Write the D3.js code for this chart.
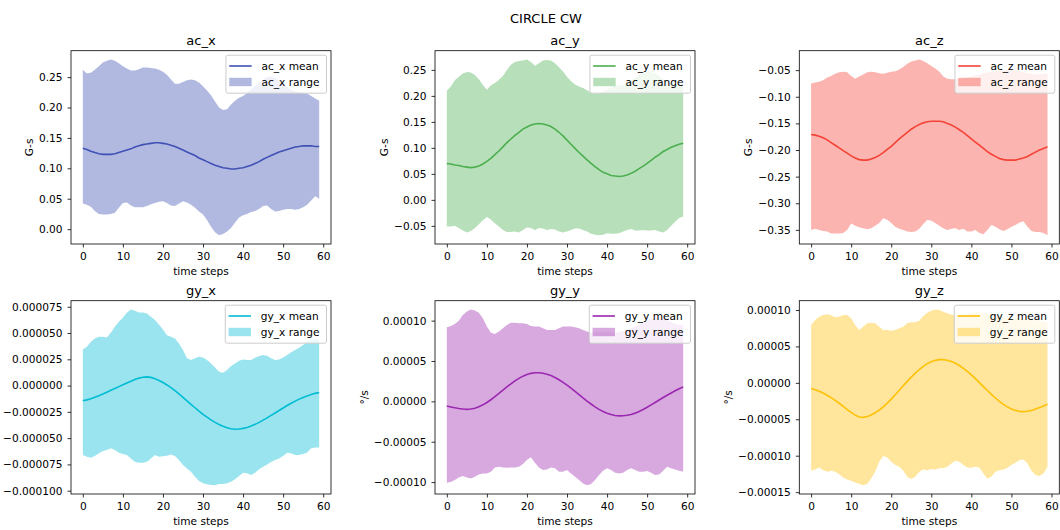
<!DOCTYPE html>
<html>
<head>
<meta charset="utf-8">
<script src="https://cdn.jsdelivr.net/npm/d3@7"></script>
<style>
  body { margin: 0; background: #fff; }
  svg { font-family: "DejaVu Sans", sans-serif; }
</style>
</head>
<body>
<svg id="chart" width="1060" height="530"></svg>
<script>
//*********************************//
//** DATA **//
//*********************************//

var figTitle = "CIRCLE CW";
var timeSteps = d3.range(60);
var xTicks = [0, 10, 20, 30, 40, 50, 60];

/* accelerometer, in G-s */
var acXMean = [0.133,0.131,0.128,0.126,0.124,0.123,0.123,0.123,0.124,0.126,0.128,0.130,0.132,0.135,0.137,0.139,0.140,0.141,0.142,0.142,
  0.141,0.140,0.138,0.136,0.133,0.130,0.127,0.124,0.121,0.117,0.114,0.111,0.108,0.105,0.103,0.101,0.100,0.099,0.099,0.100,
  0.101,0.103,0.105,0.108,0.111,0.115,0.118,0.121,0.124,0.127,0.129,0.131,0.133,0.135,0.136,0.137,0.137,0.137,0.136,0.136];
var acXLow = [0.042,0.040,0.037,0.030,0.025,0.024,0.024,0.025,0.027,0.035,0.043,0.044,0.039,0.036,0.036,0.036,0.038,0.041,0.043,0.045,
  0.046,0.043,0.039,0.038,0.042,0.046,0.044,0.040,0.035,0.029,0.024,0.015,0.004,-0.005,-0.010,-0.008,-0.004,0.002,0.011,0.019,
  0.023,0.025,0.028,0.030,0.033,0.038,0.039,0.033,0.029,0.030,0.032,0.033,0.033,0.032,0.033,0.036,0.040,0.047,0.054,0.050];
var acXHigh = [0.262,0.256,0.257,0.262,0.268,0.274,0.277,0.279,0.277,0.273,0.268,0.264,0.261,0.261,0.263,0.266,0.266,0.265,0.264,0.262,
  0.259,0.254,0.246,0.239,0.239,0.242,0.245,0.246,0.245,0.241,0.235,0.228,0.220,0.210,0.200,0.196,0.197,0.205,0.211,0.216,
  0.219,0.224,0.230,0.236,0.241,0.246,0.250,0.251,0.249,0.245,0.240,0.234,0.229,0.226,0.225,0.224,0.223,0.219,0.215,0.211];

var acYMean = [0.070,0.069,0.067,0.066,0.064,0.063,0.062,0.063,0.065,0.069,0.074,0.080,0.087,0.094,0.102,0.110,0.117,0.124,0.130,0.136,
  0.140,0.144,0.146,0.147,0.146,0.144,0.141,0.136,0.130,0.123,0.115,0.107,0.099,0.091,0.084,0.077,0.070,0.064,0.058,0.053,
  0.050,0.047,0.046,0.045,0.046,0.048,0.051,0.055,0.060,0.065,0.070,0.076,0.082,0.087,0.093,0.097,0.101,0.104,0.107,0.109];
var acYLow = [-0.051,-0.051,-0.050,-0.054,-0.059,-0.063,-0.060,-0.054,-0.047,-0.039,-0.033,-0.038,-0.045,-0.051,-0.058,-0.062,-0.062,-0.061,-0.063,-0.058,
  -0.053,-0.054,-0.058,-0.054,-0.055,-0.058,-0.056,-0.057,-0.061,-0.063,-0.061,-0.058,-0.055,-0.055,-0.058,-0.061,-0.065,-0.067,-0.068,-0.067,
  -0.064,-0.065,-0.065,-0.064,-0.061,-0.058,-0.056,-0.059,-0.059,-0.058,-0.059,-0.059,-0.058,-0.061,-0.063,-0.058,-0.050,-0.042,-0.035,-0.032];
var acYHigh = [0.210,0.218,0.230,0.237,0.243,0.246,0.245,0.240,0.232,0.221,0.212,0.220,0.225,0.231,0.238,0.250,0.260,0.265,0.267,0.268,
  0.270,0.265,0.258,0.263,0.268,0.269,0.268,0.263,0.255,0.247,0.237,0.228,0.222,0.218,0.215,0.211,0.206,0.204,0.205,0.208,
  0.212,0.216,0.219,0.220,0.221,0.224,0.229,0.235,0.240,0.244,0.246,0.246,0.243,0.238,0.232,0.227,0.224,0.222,0.221,0.220];

var acZMean = [-0.171,-0.172,-0.174,-0.177,-0.181,-0.186,-0.191,-0.196,-0.201,-0.206,-0.211,-0.215,-0.218,-0.219,-0.219,-0.217,-0.214,-0.210,-0.205,-0.199,
  -0.193,-0.186,-0.179,-0.173,-0.167,-0.161,-0.156,-0.152,-0.149,-0.147,-0.146,-0.146,-0.146,-0.147,-0.150,-0.153,-0.157,-0.162,-0.167,-0.173,
  -0.179,-0.185,-0.191,-0.197,-0.203,-0.208,-0.212,-0.216,-0.218,-0.219,-0.219,-0.219,-0.217,-0.215,-0.212,-0.208,-0.204,-0.200,-0.197,-0.194];
var acZLow = [-0.350,-0.348,-0.350,-0.352,-0.353,-0.357,-0.357,-0.357,-0.356,-0.350,-0.338,-0.342,-0.345,-0.347,-0.349,-0.347,-0.342,-0.337,-0.328,-0.331,
  -0.337,-0.344,-0.348,-0.350,-0.353,-0.354,-0.353,-0.348,-0.339,-0.331,-0.333,-0.337,-0.342,-0.347,-0.350,-0.348,-0.347,-0.350,-0.348,-0.353,
  -0.353,-0.350,-0.356,-0.358,-0.350,-0.341,-0.344,-0.349,-0.352,-0.349,-0.344,-0.341,-0.336,-0.334,-0.344,-0.352,-0.354,-0.354,-0.356,-0.360];
var acZHigh = [-0.075,-0.073,-0.072,-0.069,-0.064,-0.061,-0.057,-0.054,-0.053,-0.054,-0.061,-0.066,-0.062,-0.058,-0.054,-0.053,-0.054,-0.056,-0.057,-0.055,
  -0.053,-0.052,-0.049,-0.044,-0.038,-0.034,-0.032,-0.030,-0.033,-0.037,-0.042,-0.047,-0.053,-0.062,-0.066,-0.067,-0.067,-0.066,-0.066,-0.064,
  -0.062,-0.060,-0.058,-0.056,-0.055,-0.053,-0.052,-0.051,-0.050,-0.050,-0.050,-0.051,-0.052,-0.054,-0.055,-0.057,-0.058,-0.058,-0.057,-0.056];

/* gyroscope, in millionths of °/s */
var gyXMean = [-14.4,-13.6,-12.5,-11.1,-9.6,-8.0,-6.3,-4.5,-2.7,-1.0,0.7,2.4,4.1,5.7,7.1,8.0,8.3,7.8,6.6,4.9,
  2.9,0.6,-2.0,-4.9,-8.0,-11.2,-14.5,-17.8,-21.1,-24.3,-27.3,-30.1,-32.7,-35.0,-37.0,-38.7,-40.2,-41.1,-41.5,-41.3,
  -40.7,-39.8,-38.5,-36.9,-35.0,-32.9,-30.7,-28.4,-26.1,-23.7,-21.3,-19.0,-16.8,-14.8,-12.9,-11.3,-9.8,-8.5,-7.4,-6.5];
var gyXLow = [-66.1,-67.7,-68.6,-67.0,-64.5,-62.3,-61.3,-59.7,-61.3,-63.9,-65.1,-66.1,-69.3,-72.4,-73.4,-73.4,-72.4,-69.3,-66.1,-67.7,
  -67.2,-66.7,-65.5,-67.0,-70.8,-75.6,-78.8,-81.9,-86.7,-90.8,-93.0,-94.0,-94.6,-94.8,-93.7,-93.7,-93.0,-91.5,-89.2,-86.1,
  -82.9,-83.5,-85.1,-82.9,-79.7,-77.2,-75.0,-72.7,-70.8,-69.3,-67.0,-63.9,-64.5,-66.1,-66.1,-65.1,-63.6,-59.7,-58.8,-58.8];
var gyXHigh = [34.4,37.0,41.7,44.9,46.5,46.5,45.8,50.3,56.0,60.7,64.5,69.3,72.4,71.2,69.6,69.6,68.7,65.5,62.3,58.2,
  53.4,48.0,46.5,44.9,40.1,33.8,25.9,24.3,25.9,27.4,26.8,24.3,21.1,17.3,13.2,12.2,14.8,18.6,21.1,23.6,
  24.9,24.3,24.3,26.5,28.1,29.0,28.4,25.9,24.3,24.9,26.8,29.0,31.6,33.8,36.0,38.5,41.7,43.3,44.2,43.3];

var gyYMean = [-5.8,-6.9,-7.9,-8.8,-9.5,-9.9,-9.5,-8.5,-6.7,-4.3,-1.4,2.0,5.8,9.8,13.8,17.9,21.7,25.3,28.5,31.2,
  33.3,34.7,35.4,35.5,34.8,33.6,31.9,29.6,26.8,23.6,20.1,16.3,12.4,8.4,4.3,0.4,-3.3,-6.8,-9.9,-12.6,
  -14.8,-16.4,-17.5,-18.0,-17.9,-17.3,-16.3,-14.6,-12.5,-10.0,-7.3,-4.4,-1.4,1.7,4.7,7.6,10.4,13.1,15.6,17.9];
var gyYLow = [-100.8,-100.0,-97.5,-94.2,-92.6,-94.2,-95.5,-93.4,-90.5,-89.3,-89.3,-87.2,-81.8,-81.0,-81.8,-82.2,-81.8,-81.8,-81.0,-77.7,
  -72.7,-69.4,-76.0,-81.8,-85.1,-84.3,-81.8,-83.0,-87.2,-87.2,-85.1,-89.3,-93.4,-97.5,-101.7,-103.9,-102.5,-97.5,-91.3,-86.0,
  -83.0,-85.1,-88.4,-89.3,-88.4,-85.1,-83.0,-85.1,-87.2,-87.2,-86.4,-88.4,-91.3,-90.5,-86.0,-81.0,-83.0,-84.3,-86.0,-87.2];
var gyYHigh = [91.7,93.4,95.9,100.0,107.0,111.2,113.8,112.4,109.9,102.9,92.6,85.1,83.5,86.4,90.5,94.6,97.5,97.5,96.7,96.7,
  95.9,93.4,92.6,92.6,90.5,88.4,88.4,88.4,90.5,92.6,92.6,92.6,91.7,90.5,88.4,86.4,85.1,85.5,86.0,86.2,
  86.0,85.5,85.0,85.8,87.0,88.5,90.0,92.5,95.0,97.5,100.0,102.0,103.5,104.0,103.0,100.5,98.0,96.0,95.0,94.0];

var gyZMean = [-7.6,-9.4,-11.5,-14.0,-17.0,-20.3,-24.0,-28.0,-32.3,-36.8,-40.6,-44.3,-46.8,-47.4,-46.3,-44.1,-41.1,-37.3,-32.9,-27.8,
  -22.3,-16.3,-10.2,-4.1,2.0,7.9,13.4,18.3,22.7,26.3,29.1,30.9,31.9,31.9,31.1,29.4,27.0,23.8,20.0,15.7,
  10.9,5.7,0.4,-5.1,-10.5,-15.8,-20.8,-25.4,-29.5,-33.0,-35.8,-37.8,-39.1,-39.5,-39.0,-37.8,-36.0,-34.0,-31.8,-29.5];
var gyZLow = [-120.7,-118.9,-116.1,-119.8,-122.1,-120.7,-122.1,-125.3,-129.9,-132.6,-134.4,-136.7,-139.0,-140.5,-139.0,-131.2,-122.1,-108.3,-100.5,-102.4,
  -108.3,-112.9,-115.2,-120.7,-128.9,-132.1,-128.9,-122.1,-118.9,-119.8,-118.4,-118.9,-117.1,-117.1,-115.2,-110.6,-107.0,-108.3,-112.9,-116.1,
  -116.6,-115.2,-116.1,-124.4,-131.2,-128.9,-122.1,-119.8,-118.9,-116.6,-112.9,-109.7,-106.0,-105.1,-110.6,-120.7,-126.6,-128.0,-124.4,-115.2];
var gyZHigh = [79.4,86.3,90.8,93.1,94.0,92.7,89.9,90.8,93.1,93.1,88.6,79.4,72.5,77.1,81.7,82.6,81.7,77.1,72.5,72.5,
  71.6,72.5,74.8,77.1,81.7,83.1,83.1,85.3,91.8,96.3,99.1,100.7,100.0,97.7,95.4,93.5,92.5,92.5,93.0,94.5,
  96.0,97.0,97.0,96.0,95.0,93.5,92.0,91.0,90.0,89.0,88.0,88.0,88.0,88.0,87.5,87.0,86.0,85.0,84.0,83.0];

/* y tick labels (gyro ticks in millionths) */
var acXTicks = [0.00, 0.05, 0.10, 0.15, 0.20, 0.25];
var acYTicks = [-0.05, 0.00, 0.05, 0.10, 0.15, 0.20, 0.25];
var acZTicks = [-0.35, -0.30, -0.25, -0.20, -0.15, -0.10, -0.05];
var gyXTicks = [-100, -75, -50, -25, 0, 25, 50, 75];
var gyYTicks = [-100, -50, 0, 50, 100];
var gyZTicks = [-150, -100, -50, 0, 50, 100];

//*********************//
//** PANEL SET UP    **//
//*********************//

var minus = function(s){ return s.replace("-", "\u2212"); };
var fmtAc = d3.format(".2f");
var fmtGy = function(digits){ return function(v){ return minus((v / 1e6).toFixed(digits)); }; };

var panels = [
  {title: "ac_x", mean: acXMean, low: acXLow, high: acXHigh, color: "#3f51b5", ylabel: "G-s", ticks: acXTicks, fmt: fmtAc},
  {title: "ac_y", mean: acYMean, low: acYLow, high: acYHigh, color: "#4caf50", ylabel: "G-s", ticks: acYTicks, fmt: fmtAc},
  {title: "ac_z", mean: acZMean, low: acZLow, high: acZHigh, color: "#f44336", ylabel: "G-s", ticks: acZTicks, fmt: fmtAc},
  {title: "gy_x", mean: gyXMean, low: gyXLow, high: gyXHigh, color: "#00bcd4", ylabel: "°/s", ticks: gyXTicks, fmt: fmtGy(6)},
  {title: "gy_y", mean: gyYMean, low: gyYLow, high: gyYHigh, color: "#9c27b0", ylabel: "°/s", ticks: gyYTicks, fmt: fmtGy(5)},
  {title: "gy_z", mean: gyZMean, low: gyZLow, high: gyZHigh, color: "#ffc107", ylabel: "°/s", ticks: gyZTicks, fmt: fmtGy(5)}
];

var svg = d3.select("#chart");
var colLeft = [71, 435, 799.3], rowTop = [50.7, 300.7];
var axW = 260, axH = 193.3;
var fs = 10.6;

svg.append("text")
  .attr("x", 546).attr("y", 23)
  .attr("text-anchor", "middle")
  .style("font-size", "13px")
  .text(figTitle);

panels.forEach(function(p, i){
  drawPanel(p, colLeft[i % 3], rowTop[Math.floor(i / 3)]);
});

/* one subplot: range band, mean line, frame, ticks, labels, legend */
function drawPanel(p, left, top){
  var g = svg.append("g").attr("transform", "translate(" + left + "," + top + ")");

  // matplotlib style 5% margins
  var tMax = d3.max(timeSteps), tm = tMax * 0.05;
  var x = d3.scaleLinear().domain([-tm, tMax + tm]).range([0, axW]);
  var lo = d3.min(p.low), hi = d3.max(p.high), m = (hi - lo) * 0.05;
  var y = d3.scaleLinear().domain([lo - m, hi + m]).range([axH, 0]);

  g.append("path").datum(timeSteps)
    .attr("d", d3.area()
      .x(function(t){ return x(t); })
      .y0(function(t){ return y(p.low[t]); })
      .y1(function(t){ return y(p.high[t]); }))
    .attr("fill", p.color)
    .attr("fill-opacity", 0.4);

  g.append("path").datum(timeSteps)
    .attr("d", d3.line()
      .x(function(t){ return x(t); })
      .y(function(t){ return y(p.mean[t]); }))
    .attr("fill", "none")
    .attr("stroke", p.color)
    .attr("stroke-width", 1.6);

  var xAxis = g.append("g")
    .attr("transform", "translate(0," + axH + ")")
    .call(d3.axisBottom(x).tickValues(xTicks).tickSize(3.5).tickPadding(5));
  var yAxis = g.append("g")
    .call(d3.axisLeft(y).tickValues(p.ticks).tickFormat(p.fmt).tickSize(3.5).tickPadding(5));

  [xAxis, yAxis].forEach(function(a){
    a.attr("font-family", null).attr("font-size", null);
    a.select(".domain").remove();
    a.selectAll("line").attr("stroke", "#000").attr("stroke-width", 0.8);
    a.selectAll("text").attr("fill", "#000").style("font-size", fs + "px");
  });

  g.append("rect")
    .attr("width", axW).attr("height", axH)
    .attr("fill", "none")
    .attr("stroke", "#000")
    .attr("stroke-width", 0.8);

  g.append("text")
    .attr("x", axW / 2).attr("y", -5.7)
    .attr("text-anchor", "middle")
    .style("font-size", "13px")
    .text(p.title);

  g.append("text")
    .attr("x", axW / 2).attr("y", axH + 31)
    .attr("text-anchor", "middle")
    .style("font-size", fs + "px")
    .text("time steps");

  // y label sits left of the tick labels; like the original figure,
  // it is left out when that spot falls outside the page
  var tickW = d3.max(yAxis.selectAll("text").nodes(), function(n){ return n.getComputedTextLength(); });
  var labelX = -8.5 - tickW - 6;
  if (left + labelX - fs > 0) {
    g.append("text")
      .attr("transform", "translate(" + labelX + "," + (axH / 2) + ") rotate(-90)")
      .attr("text-anchor", "middle")
      .style("font-size", fs + "px")
      .text(p.ylabel);
  }

  drawLegend(g, p);
}

/* legend box in the upper right corner of the axes */
function drawLegend(g, p){
  var rowY = [10.8, 26.8], legH = 38;
  var leg = g.append("g");
  var frame = leg.append("rect");

  var texts = leg.selectAll("text")
    .data([p.title + " mean", p.title + " range"])
    .enter()
    .append("text")
      .attr("x", 35.5)
      .attr("y", function(d, i){ return rowY[i]; })
      .attr("dy", "0.35em")
      .style("font-size", fs + "px")
      .text(function(d){ return d; });

  var textW = d3.max(texts.nodes(), function(n){ return n.getComputedTextLength(); });
  var legW = 35.5 + textW + 7;

  frame.attr("width", legW).attr("height", legH)
    .attr("rx", 2).attr("ry", 2)
    .attr("fill", "#fff").attr("fill-opacity", 0.8)
    .attr("stroke", "#ccc").attr("stroke-width", 1);

  leg.append("line")
    .attr("x1", 3.3).attr("x2", 25.7)
    .attr("y1", rowY[0]).attr("y2", rowY[0])
    .attr("stroke", p.color).attr("stroke-width", 1.6);

  leg.append("rect")
    .attr("x", 3.3).attr("y", rowY[1] - 4.2)
    .attr("width", 22.4).attr("height", 8.4)
    .attr("fill", p.color).attr("fill-opacity", 0.4);

  leg.attr("transform", "translate(" + (axW - 4.5 - legW) + ",4.5)");
}
</script>
</body>
</html>
